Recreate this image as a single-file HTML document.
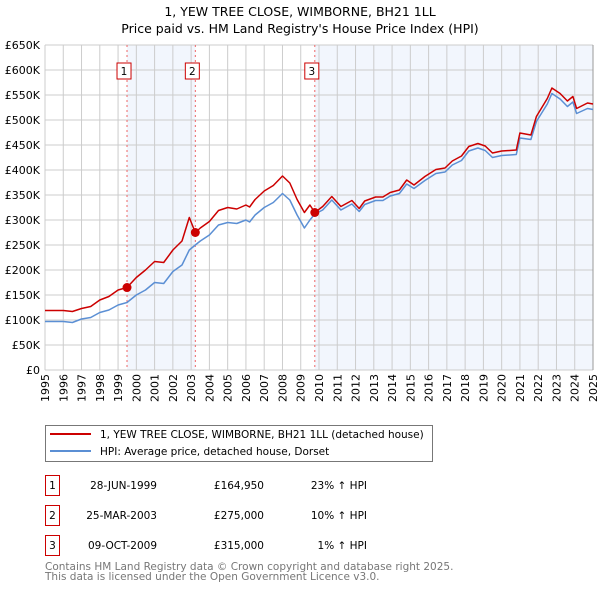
<!DOCTYPE html>
<html><head><meta charset="utf-8"><style>
body{margin:0;background:#fff;}
svg text{font-family:"DejaVu Sans","Liberation Sans",sans-serif;}
</style></head><body>
<svg id="c" width="600" height="590" xmlns="http://www.w3.org/2000/svg">
<text x="300" y="16" text-anchor="middle" font-size="12.5" fill="#000">1, YEW TREE CLOSE, WIMBORNE, BH21 1LL</text>
<text x="300" y="33" text-anchor="middle" font-size="12.5" fill="#000">Price paid vs. HM Land Registry's House Price Index (HPI)</text>
<g id="plot"></g>
<g>
<rect x="45.5" y="425.5" width="387" height="36" fill="#fff" stroke="#777"/>
<line x1="50" y1="434" x2="91" y2="434" stroke="#cc0000" stroke-width="2"/>
<text x="100" y="438" font-size="10.5">1, YEW TREE CLOSE, WIMBORNE, BH21 1LL (detached house)</text>
<line x1="50" y1="451" x2="91" y2="451" stroke="#5b8fd4" stroke-width="2"/>
<text x="100" y="455" font-size="10.5">HPI: Average price, detached house, Dorset</text>
</g>
<g id="tbl"></g>
<text x="45" y="570" font-size="10.5" fill="#777">Contains HM Land Registry data © Crown copyright and database right 2025.</text>
<text x="45" y="580" font-size="10.5" fill="#777">This data is licensed under the Open Government Licence v3.0.</text>
</svg>
<script>
const years=[1995,1995.5,1996,1996.5,1997,1997.5,1998,1998.5,1999,1999.49,2000,2000.5,2001,2001.5,2002,2002.5,2002.9,2003.23,2003.5,2004,2004.5,2005,2005.5,2006,2006.2,2006.5,2007,2007.5,2008,2008.4,2008.8,2009.2,2009.5,2009.77,2010.2,2010.7,2011.2,2011.8,2012.2,2012.5,2013.1,2013.5,2013.9,2014.4,2014.8,2015.2,2015.8,2016.4,2016.9,2017.3,2017.8,2018.2,2018.7,2019.1,2019.5,2020,2020.8,2021.0,2021.6,2021.9,2022.5,2022.75,2023.2,2023.6,2023.9,2024.1,2024.7,2025.0];
const hpiK=[97,97,97,95,102,105,115,120,130,135,150,160,175,173,197,210,240,250,258,270,290,295,293,300,296,310,325,335,353,340,310,284,300,312,320,340,320,332,317,331,339,339,348,353,372,363,379,393,396,410,419,438,444,439,425,429,431,464,461,497,532,553,542,527,536,513,523,521];
const propK=[119,119,119,117,123,127,140,147,160,165,185,200,217,215,240,258,305,275,284,297,319,325,322,330,326,341,358,369,388,374,341,315,330,315,327,347,327,339,323,338,346,346,355,360,380,370,387,401,404,418,428,447,453,448,434,438,440,474,470,507,543,564,553,538,547,523,534,532];
const saleYears=[1999.49,2003.23,2009.77];
const salePricesK=[164.95,275,315];
const saleDates=["28-JUN-1999","25-MAR-2003","09-OCT-2009"];
const salePriceLabels=["£164,950","£275,000","£315,000"];
const saleHpiLabels=["23% ↑ HPI","10% ↑ HPI","1% ↑ HPI"];
const yTicksK=[0,50,100,150,200,250,300,350,400,450,500,550,600,650];
const yTickLabels=["£0","£50K","£100K","£150K","£200K","£250K","£300K","£350K","£400K","£450K","£500K","£550K","£600K","£650K"];

const NS="http://www.w3.org/2000/svg";
const X0=45,X1=593,Y0=370,Y1=45,YR0=1995,YR1=2025,VMAX=650;
const xs=y=>X0+(y-YR0)/(YR1-YR0)*(X1-X0);
const ys=v=>Y0-v/VMAX*(Y0-Y1);
const plot=document.getElementById('plot');
function mk(tag,attrs,parent){const e=document.createElementNS(NS,tag);for(const k in attrs)e.setAttribute(k,attrs[k]);(parent||plot).appendChild(e);return e;}

let bg=mk('rect',{x:X0,y:Y1,width:X1-X0,height:Y0-Y1,fill:'#fff'});


let sh1=mk('rect',{x:xs(saleYears[0]),y:Y1,width:xs(saleYears[1])-xs(saleYears[0]),height:Y0-Y1,fill:'#f2f6fd'});


let sh2=mk('rect',{x:xs(saleYears[2]),y:Y1,width:X1-xs(saleYears[2]),height:Y0-Y1,fill:'#f2f6fd'});



for(let y=YR0;y<=YR1;y++){
  const g=mk('line',{x1:xs(y),x2:xs(y),y1:Y1,y2:Y0,stroke:'#cccccc','stroke-width':1});
  
  
  const t=mk('text',{x:0,y:0,'font-size':11,'text-anchor':'end',transform:`translate(${xs(y)+4},${Y0+4}) rotate(-90)`});
  t.textContent=y;
  
  
}
yTicksK.forEach((v,i)=>{
  const g=mk('line',{x1:X0,x2:X1,y1:ys(v),y2:ys(v),stroke:'#cccccc','stroke-width':1});
  
  
  const t=mk('text',{x:40,y:ys(v)+4,'font-size':11,'text-anchor':'end'});
  t.textContent=yTickLabels[i];
  
  
});
let rb=mk('line',{x1:X1,x2:X1,y1:Y1,y2:Y0,stroke:'#999','stroke-width':1});



saleYears.forEach((sy,i)=>{
  const l=mk('line',{x1:xs(sy),x2:xs(sy),y1:Y1,y2:Y0,stroke:'#ee6666','stroke-width':1,'stroke-dasharray':'2,3'});
  
  
  const b=mk('rect',{x:xs(sy)-10,y:63,width:14,height:16,fill:'#fff',stroke:'#cc0000'});
  
  
  const t=mk('text',{x:xs(sy)-3,y:75,'font-size':10.5,'text-anchor':'middle'});
  t.textContent=String(i+1);
  
  
});

function pathOf(vals){return vals.map((v,i)=>(i?'L':'M')+xs(years[i]).toFixed(1)+','+ys(v).toFixed(1)).join('');}
let hp=mk('path',{d:pathOf(hpiK),fill:'none',stroke:'#5b8fd4','stroke-width':1.5,'stroke-linejoin':'round'});


let pp=mk('path',{d:pathOf(propK),fill:'none',stroke:'#cc0000','stroke-width':1.5,'stroke-linejoin':'round'});


saleYears.forEach((sy,i)=>{
  const c=mk('circle',{cx:xs(sy),cy:ys(salePricesK[i]),r:4.5,fill:'#cc0000'});
  
  
});

const tbl=document.getElementById('tbl');
saleDates.forEach((d,i)=>{
  const y=475+i*30;
  const b=mk('rect',{x:45.5,y:y+0.5,width:14,height:20,fill:'#fff',stroke:'#cc0000'},tbl);
  
  
  const n=mk('text',{x:52.5,y:y+14,'font-size':10.5,'text-anchor':'middle'},tbl);
  n.textContent=String(i+1);
  
  
  const t1=mk('text',{x:157,y:y+14,'font-size':10.5,'text-anchor':'end'},tbl);
  t1.textContent=d;
  
  
  const t2=mk('text',{x:264,y:y+14,'font-size':10.5,'text-anchor':'end'},tbl);
  t2.textContent=salePriceLabels[i];
  
  
  const t3=mk('text',{x:367,y:y+14,'font-size':10.5,'text-anchor':'end'},tbl);
  t3.textContent=saleHpiLabels[i];
  
  
});
</script>
</body></html>
